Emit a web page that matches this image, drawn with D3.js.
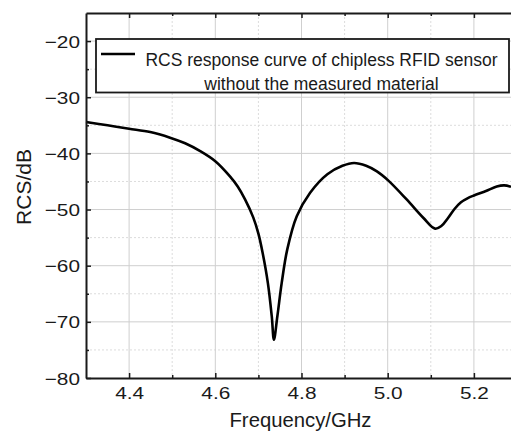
<!DOCTYPE html>
<html>
<head>
<meta charset="utf-8">
<script src="https://cdn.jsdelivr.net/npm/d3@7"></script>
<style>
  body { margin: 0; background: #fff; }
  svg { display: block; font-family: "Liberation Sans", Arial, sans-serif; }
</style>
</head>
<body>
<div class="chart"></div>
<script>
// RCS response
var freq = [4.300, 4.350, 4.400, 4.449, 4.495, 4.530, 4.565, 4.600, 4.634, 4.652, 4.669,
            4.688, 4.700, 4.710, 4.722, 4.731, 4.736, 4.744, 4.754, 4.767, 4.789, 4.820,
            4.860, 4.895, 4.922, 4.950, 4.975, 5.001, 5.044, 5.083, 5.110, 5.125, 5.140,
            5.155, 5.170, 5.185, 5.200, 5.228, 5.253, 5.270, 5.286];
var rcs = [-34.4, -35.0, -35.6, -36.2, -37.2, -38.2, -39.6, -41.4, -44.1, -45.9, -48.2,
           -51.4, -54.3, -57.8, -63.1, -69.0, -73.2, -69.0, -63.1, -57.1, -51.2, -47.0,
           -43.7, -42.2, -41.7, -42.2, -43.2, -44.8, -48.2, -51.5, -53.4, -52.9, -51.5,
           -49.9, -48.7, -48.0, -47.5, -46.7, -45.9, -45.7, -45.95];

var xMajor = [4.4, 4.6, 4.8, 5.0, 5.2];
var xMinor = [4.5, 4.7, 4.9, 5.1];
var yMajor = [-80, -70, -60, -50, -40, -30, -20];
var yMinor = [-75, -65, -55, -45, -35, -25];
var legendLines = ["RCS response curve of chipless RFID sensor", "without the measured material"];

var svgWidth = 511;
var svgHeight = 432;
var plot = {left: 86, right: 517, top: 13, bottom: 378};

var svg = d3.select(".chart").append("svg")
  .attr("width", svgWidth)
  .attr("height", svgHeight);

var x = d3.scaleLinear().domain([4.3, 5.3]).range([plot.left, plot.right]);
var y = d3.scaleLinear().domain([-80, -15]).range([plot.bottom, plot.top]);

// grid lines
var grid = svg.append("g");
grid.selectAll(".vmin").data(xMinor).enter().append("line")
  .attr("x1", d => x(d)).attr("x2", d => x(d))
  .attr("y1", plot.top).attr("y2", plot.bottom)
  .attr("stroke", "#dcdcdc").attr("stroke-dasharray", "2,2");
grid.selectAll(".hmin").data(yMinor).enter().append("line")
  .attr("y1", d => y(d)).attr("y2", d => y(d))
  .attr("x1", plot.left).attr("x2", plot.right)
  .attr("stroke", "#dcdcdc").attr("stroke-dasharray", "2,2");
grid.selectAll(".vmaj").data(xMajor).enter().append("line")
  .attr("x1", d => x(d)).attr("x2", d => x(d))
  .attr("y1", plot.top).attr("y2", plot.bottom)
  .attr("stroke", "#cfcfcf");
grid.selectAll(".hmaj").data(yMajor.slice(1)).enter().append("line")
  .attr("y1", d => y(d)).attr("y2", d => y(d))
  .attr("x1", plot.left).attr("x2", plot.right)
  .attr("stroke", "#cfcfcf");

// curve
var line = d3.line()
  .x((d, i) => x(freq[i]))
  .y(d => y(d))
  .curve(d3.curveCatmullRom.alpha(0.5));
svg.append("path")
  .datum(rcs)
  .attr("d", line)
  .attr("fill", "none")
  .attr("stroke", "#000")
  .attr("stroke-width", 2.6)
  .attr("stroke-linejoin", "round");

// axes, ticks pointing inward
function styleAxis(g) {
  g.select(".domain").attr("stroke", "#1a1a1a").attr("stroke-width", 2);
  g.selectAll(".tick line").attr("stroke", "#1a1a1a").attr("stroke-width", 1.5);
}
function stretchLabels(g) {
  g.selectAll(".tick text").each(function() {
    var w = this.getComputedTextLength();
    d3.select(this).attr("textLength", w * 1.24).attr("lengthAdjust", "spacingAndGlyphs");
  });
}

var bottomAxis = svg.append("g")
  .attr("transform", "translate(0," + plot.bottom + ")")
  .call(d3.axisBottom(x).tickValues(xMajor).tickFormat(d3.format(".1f"))
    .tickSizeInner(-5).tickSizeOuter(0).tickPadding(9));
bottomAxis.call(styleAxis);
bottomAxis.selectAll(".tick text").attr("font-size", 16.8).attr("fill", "#1a1a1a")
  .attr("font-family", "Liberation Sans, Arial, sans-serif");
bottomAxis.call(stretchLabels);

svg.append("g")
  .attr("transform", "translate(0," + plot.bottom + ")")
  .call(d3.axisBottom(x).tickValues(xMinor).tickFormat("").tickSizeInner(-3).tickSizeOuter(0))
  .call(styleAxis)
  .call(g => g.select(".domain").remove());

var topAxis = svg.append("g")
  .attr("transform", "translate(0," + plot.top + ")")
  .call(d3.axisTop(x).tickValues(xMajor).tickFormat("").tickSizeInner(-5).tickSizeOuter(0));
topAxis.call(styleAxis);
svg.append("g")
  .attr("transform", "translate(0," + plot.top + ")")
  .call(d3.axisTop(x).tickValues(xMinor).tickFormat("").tickSizeInner(-3).tickSizeOuter(0))
  .call(styleAxis)
  .call(g => g.select(".domain").remove());

var leftAxis = svg.append("g")
  .attr("transform", "translate(" + plot.left + ",0)")
  .call(d3.axisLeft(y).tickValues(yMajor).tickFormat(d => d3.format("d")(d).replace("-", "\u2212"))
    .tickSizeInner(-5).tickSizeOuter(0).tickPadding(6));
leftAxis.call(styleAxis);
leftAxis.selectAll(".tick text").attr("font-size", 16.8).attr("fill", "#1a1a1a").attr("dy", "0.36em")
  .attr("font-family", "Liberation Sans, Arial, sans-serif");
leftAxis.call(stretchLabels);
svg.append("g")
  .attr("transform", "translate(" + plot.left + ",0)")
  .call(d3.axisLeft(y).tickValues(yMinor).tickFormat("").tickSizeInner(-3).tickSizeOuter(0))
  .call(styleAxis)
  .call(g => g.select(".domain").remove());

// axis titles
svg.append("text")
  .attr("x", 300.5)
  .attr("y", 427)
  .attr("text-anchor", "middle")
  .attr("font-size", 20.3)
  .attr("fill", "#1a1a1a")
  .text("Frequency/GHz");
svg.append("text")
  .attr("transform", "translate(31,187) rotate(-90)")
  .attr("text-anchor", "middle")
  .attr("font-size", 21)
  .attr("fill", "#1a1a1a")
  .text("RCS/dB");

// legend
var legend = svg.append("g");
legend.append("rect")
  .attr("x", 96).attr("y", 39)
  .attr("width", 413).attr("height", 53.5)
  .attr("fill", "#fff")
  .attr("stroke", "#1a1a1a")
  .attr("stroke-width", 1.8);
legend.append("line")
  .attr("x1", 101).attr("x2", 135)
  .attr("y1", 54).attr("y2", 54)
  .attr("stroke", "#000").attr("stroke-width", 2.6);
legend.selectAll(".lt").data(legendLines).enter().append("text")
  .attr("x", 321.5)
  .attr("y", (d, i) => 66 + i * 24)
  .attr("text-anchor", "middle")
  .attr("font-size", 17.5)
  .attr("fill", "#1a1a1a")
  .text(d => d);
</script>
</body>
</html>
